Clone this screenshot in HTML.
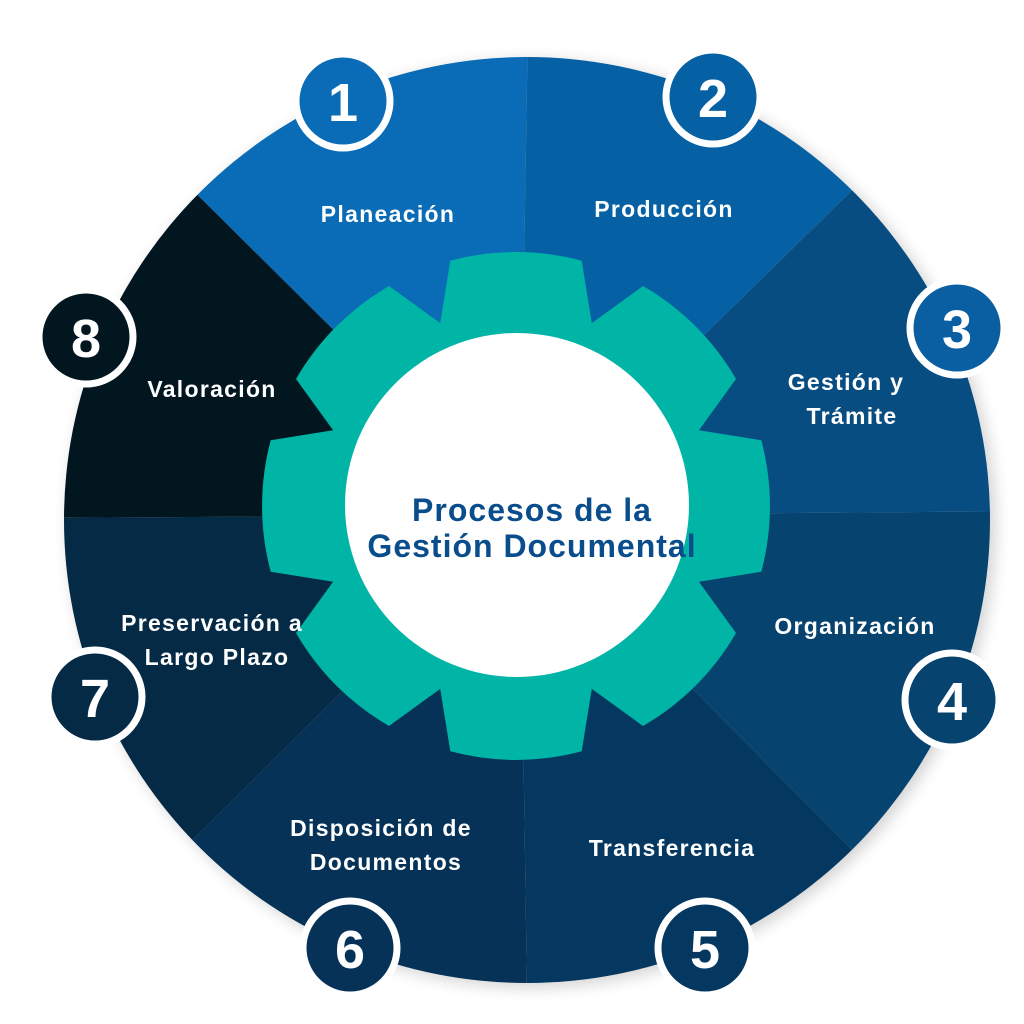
<!DOCTYPE html>
<html><head><meta charset="utf-8"><style>
html,body{margin:0;padding:0;background:#fff;width:1024px;height:1024px;overflow:hidden;}
svg{display:block}
text{font-family:"Liberation Sans",sans-serif;font-weight:bold;}
</style></head><body>
<svg width="1024" height="1024" viewBox="0 0 1024 1024" xmlns="http://www.w3.org/2000/svg">
<defs>
<clipPath id="c"><circle cx="527" cy="520" r="463"/></clipPath>
<filter id="sh" x="-20%" y="-20%" width="140%" height="140%"><feGaussianBlur stdDeviation="8"/></filter>
</defs>
<circle cx="532" cy="524" r="463" fill="#000" opacity="0.18" filter="url(#sh)"/>
<g clip-path="url(#c)">
<polygon points="520,515 530,-100 -150,-150" fill="#0a6cb6"/>
<polygon points="520,515 530,-100 1200,-150" fill="#0660a4"/>
<polygon points="520,515 1200,-150 1200,510" fill="#084d82"/>
<polygon points="520,515 1200,510 1200,1200" fill="#06436f"/>
<polygon points="520,515 1200,1200 530,1200" fill="#053860"/>
<polygon points="520,515 530,1200 -150,1180" fill="#053256"/>
<polygon points="520,515 -150,1180 -150,519" fill="#042a45"/>
<polygon points="520,515 -150,519 -150,-150" fill="#021620"/>
</g>
<g transform="translate(516,506)">
<path id="g" fill="#00b4a6" d=""/>
</g>
<circle cx="517" cy="505" r="172" fill="#fff"/>
<text x="532" y="521" font-size="32" letter-spacing="1" fill="#0a4d8c" text-anchor="middle">Procesos de la</text>
<text x="532" y="557" font-size="32" letter-spacing="1" fill="#0a4d8c" text-anchor="middle">Gestión Documental</text>
<g fill="#fff" font-size="23" letter-spacing="1.3" text-anchor="middle">
<text x="388" y="222">Planeación</text>
<text x="664" y="217">Producción</text>
<text x="846" y="390">Gestión y</text>
<text x="852" y="424">Trámite</text>
<text x="855" y="634">Organización</text>
<text x="672" y="856">Transferencia</text>
<text x="381" y="836">Disposición de</text>
<text x="386" y="870">Documentos</text>
<text x="212" y="397">Valoración</text>
<text x="212" y="631">Preservación a</text>
<text x="217" y="665">Largo Plazo</text>
</g>
<g stroke="#fff" stroke-width="7">
<circle cx="343" cy="101" r="47" fill="#0a6cb6"/>
<circle cx="713" cy="97" r="47" fill="#0660a4"/>
<circle cx="957" cy="328" r="47" fill="#0a5fa2"/>
<circle cx="952" cy="700" r="47" fill="#06436f"/>
<circle cx="705" cy="948" r="47" fill="#053860"/>
<circle cx="350" cy="948" r="47" fill="#053256"/>
<circle cx="95" cy="697" r="47" fill="#042a45"/>
<circle cx="86" cy="337" r="47" fill="#021620"/>
</g>
<g fill="#fff" font-size="54" text-anchor="middle">
<text x="343" y="121">1</text>
<text x="713" y="117">2</text>
<text x="957" y="348">3</text>
<text x="952" y="720">4</text>
<text x="705" y="968">5</text>
<text x="350" y="968">6</text>
<text x="95" y="717">7</text>
<text x="86" y="357">8</text>
</g>
<script>
(function(){
var d="",R=254,r=198;
function p(a,rad){var t=a*Math.PI/180;return (rad*Math.cos(t)).toFixed(1)+","+(rad*Math.sin(t)).toFixed(1);}
for(var k=0;k<8;k++){var th=-90+45*k;
d+=(k==0?"M":"L")+p(th-22.5,r)+" L"+p(th-15,R)+" A"+R+","+R+" 0 0 1 "+p(th+15,R)+" L"+p(th+22.5,r)+" ";}
d+="Z";document.getElementById("g").setAttribute("d",d);
})();
</script>
</svg>
</body></html>
